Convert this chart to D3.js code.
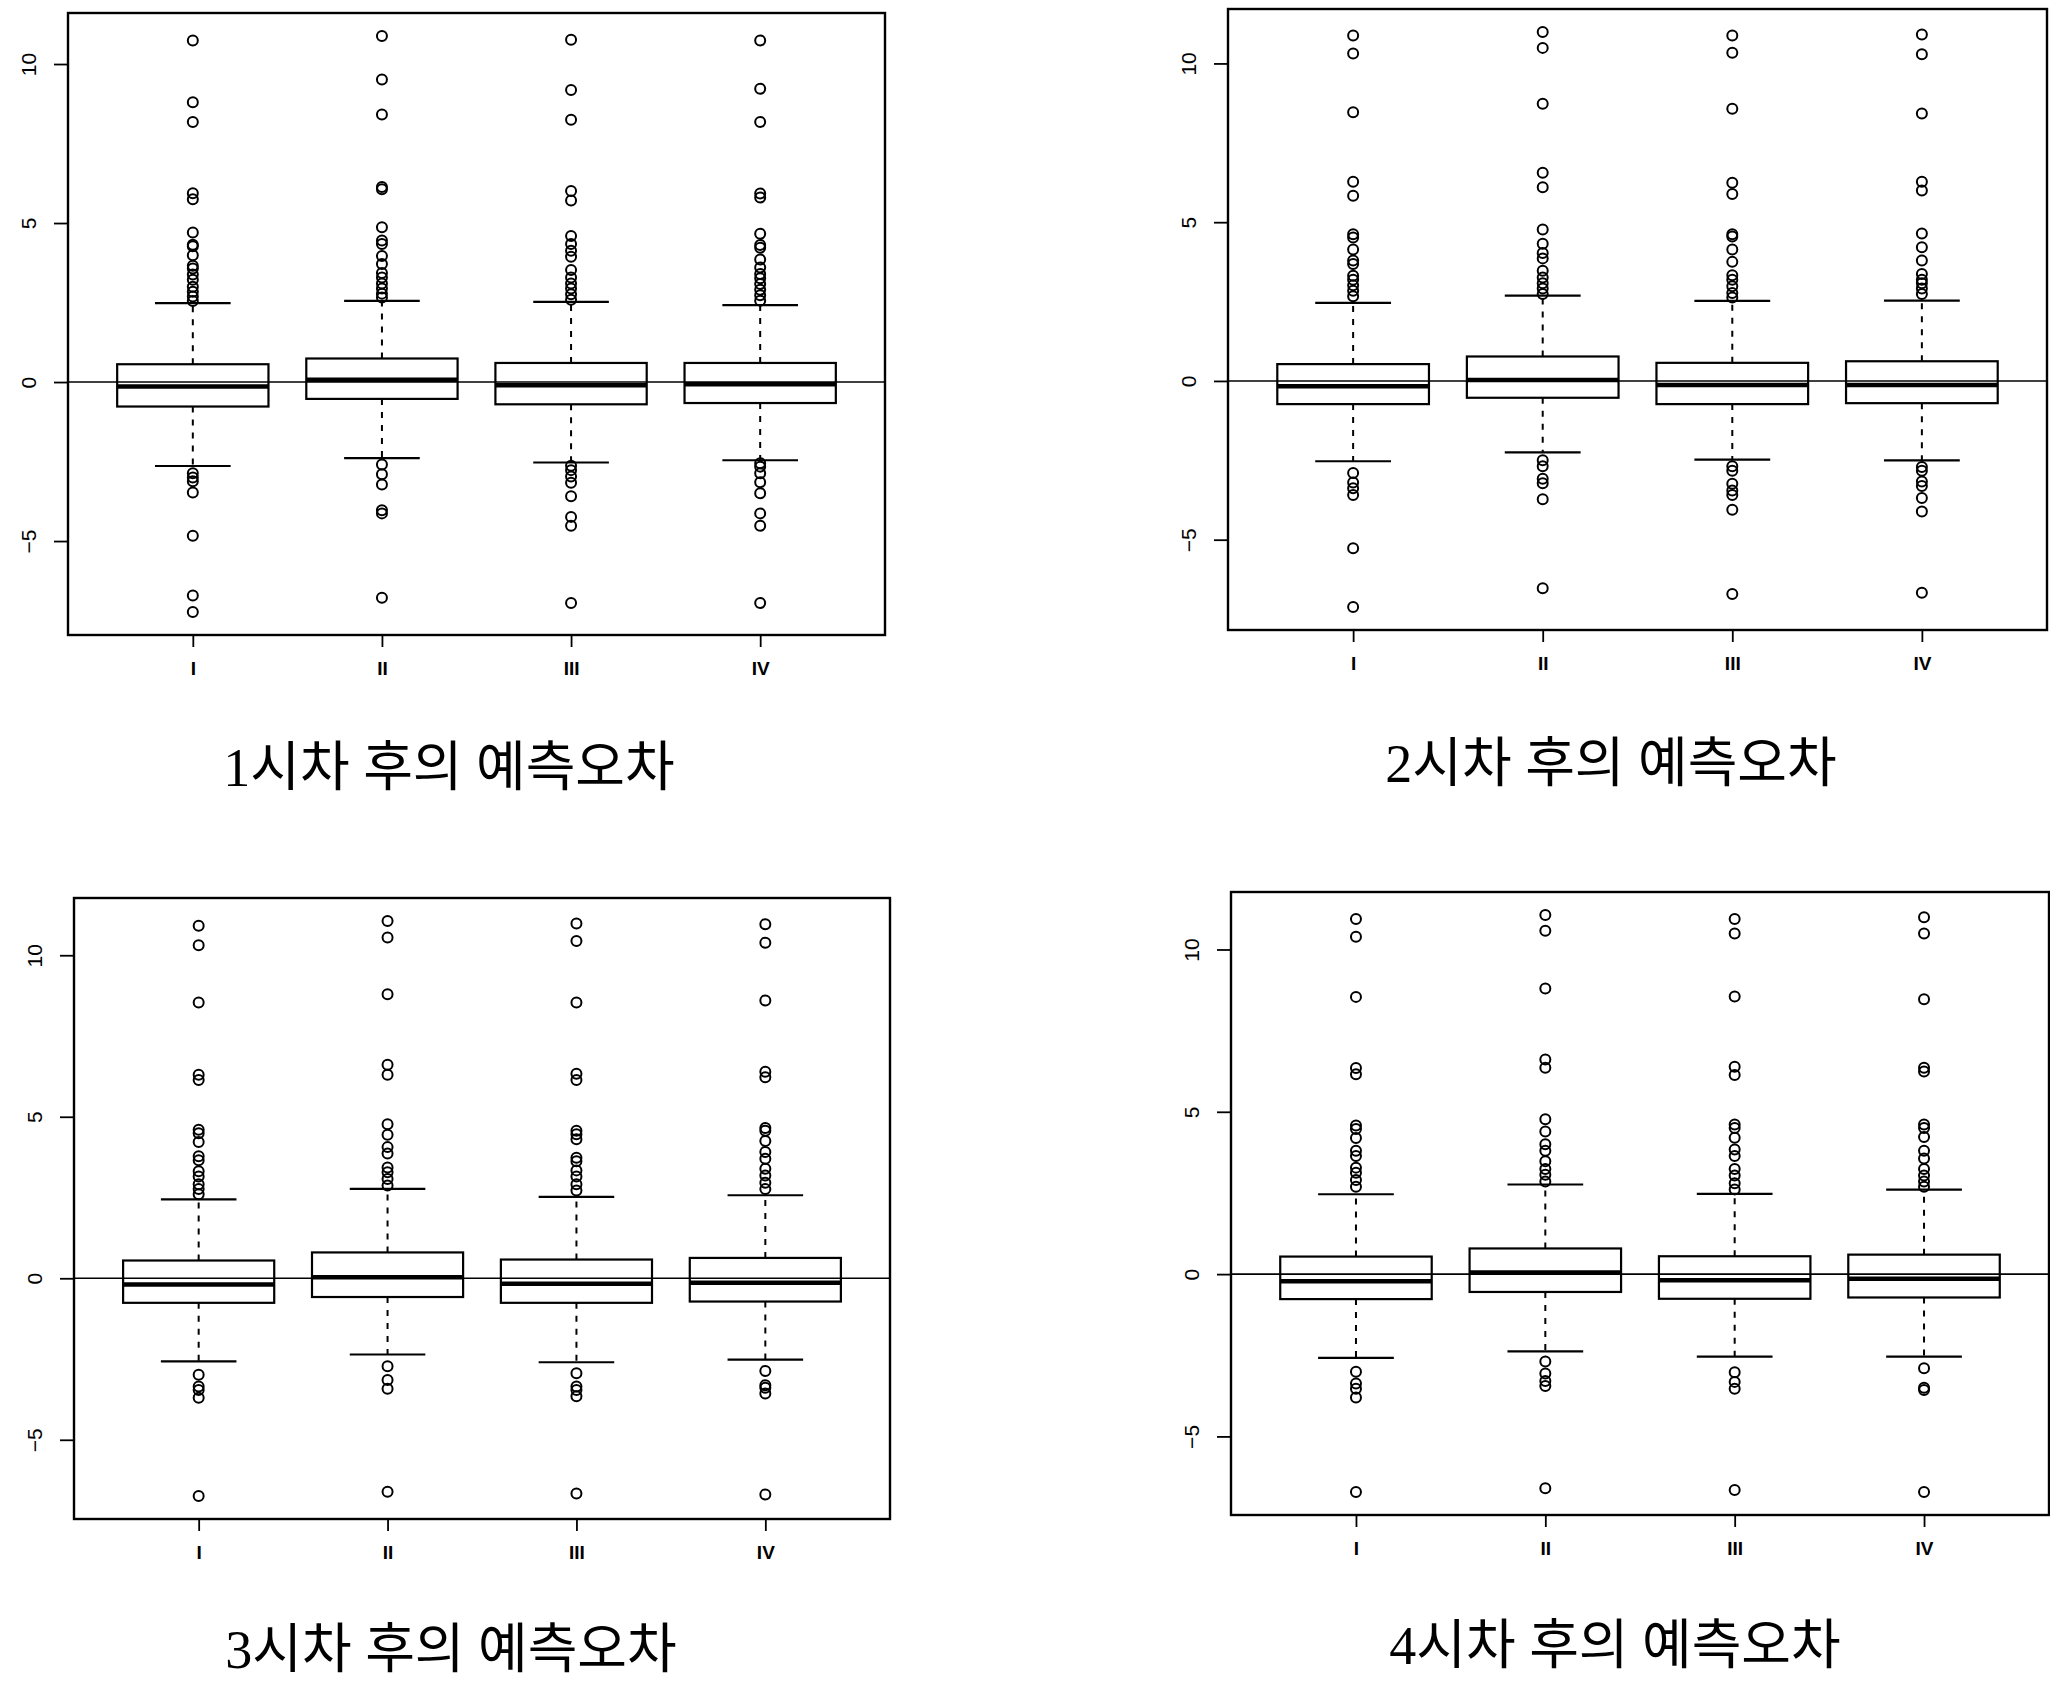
<!DOCTYPE html>
<html>
<head>
<meta charset="utf-8">
<script src="https://cdn.jsdelivr.net/npm/d3@7"></script>
<style>
body { margin: 0; background: #fff; }
svg { display: block; }
.frame { fill: none; stroke: #000; stroke-width: 2.4; }
.box { fill: #fff; stroke: #000; stroke-width: 2.2; }
.median { stroke: #000; stroke-width: 4.5; }
.whisker { stroke: #000; stroke-width: 2; stroke-dasharray: 6,7; }
.staple { stroke: #000; stroke-width: 2.2; }
.outlier { fill: none; stroke: #000; stroke-width: 2; }
.zero { stroke: #000; stroke-width: 1.6; }
.axis path { display: none; }
.axis line { stroke: #000; stroke-width: 1.8; }
.axis text { font-family: "Liberation Sans", Arial, sans-serif; fill: #000; }
.title { font-family: "Liberation Serif", "Noto Sans CJK KR", serif; font-size: 54px; fill: #000; }
</style>
</head>
<body>
<div id="chart"></div>
<script>
// Forecast error boxplots by quarter, 1 to 4 steps ahead
var categories = ["I", "II", "III", "IV"];
var titles = ["1시차 후의 예측오차", "2시차 후의 예측오차", "3시차 후의 예측오차", "4시차 후의 예측오차"];
var yTicks = [-5, 0, 5, 10];

// five number summaries: [lower whisker, Q1, median, Q3, upper whisker]
var stats1 = [[-2.64, -0.77, -0.14, 0.56, 2.48], [-2.39, -0.53, 0.07, 0.74, 2.55], [-2.53, -0.70, -0.10, 0.60, 2.52], [-2.46, -0.66, -0.07, 0.60, 2.42]];
var stats2 = [[-2.53, -0.73, -0.17, 0.53, 2.46], [-2.25, -0.53, 0.03, 0.77, 2.69], [-2.48, -0.73, -0.13, 0.57, 2.52], [-2.50, -0.70, -0.13, 0.62, 2.53]];
var stats3 = [[-2.57, -0.76, -0.19, 0.55, 2.44], [-2.36, -0.58, 0.03, 0.80, 2.77], [-2.60, -0.76, -0.17, 0.58, 2.52], [-2.52, -0.72, -0.14, 0.63, 2.57]];
var stats4 = [[-2.58, -0.77, -0.22, 0.54, 2.46], [-2.38, -0.55, 0.05, 0.79, 2.76], [-2.54, -0.76, -0.19, 0.55, 2.47], [-2.54, -0.72, -0.14, 0.60, 2.60]];

var outliers1 = [
    [10.74, 8.80, 8.18, 5.94, 5.75, 4.70, 4.32, 4.27, 3.99, 3.66, 3.57, 3.38, 3.22, 3.00, 2.84, 2.69, 2.55, -2.87, -3.00, -3.12, -3.47, -4.83, -6.71, -7.23],
    [10.88, 9.51, 8.41, 6.13, 6.06, 4.87, 4.45, 4.34, 3.96, 3.71, 3.43, 3.29, 3.10, 2.94, 2.78, 2.66, -2.59, -2.90, -3.22, -4.03, -4.13, -6.78],
    [10.76, 9.18, 8.25, 6.01, 5.71, 4.59, 4.34, 4.13, 3.94, 3.52, 3.29, 3.10, 2.94, 2.76, 2.59, -2.63, -2.77, -2.97, -3.17, -3.59, -4.24, -4.52, -6.95],
    [10.74, 9.22, 8.18, 5.93, 5.80, 4.66, 4.31, 4.22, 3.85, 3.60, 3.40, 3.26, 3.08, 2.90, 2.73, 2.56, -2.55, -2.66, -2.87, -3.15, -3.50, -4.13, -4.52, -6.95]
];
var outliers2 = [
    [10.88, 10.31, 8.46, 6.27, 5.83, 4.62, 4.52, 4.14, 3.79, 3.68, 3.31, 3.19, 3.01, 2.84, 2.67, -2.90, -3.20, -3.38, -3.59, -5.27, -7.12],
    [10.99, 10.49, 8.73, 6.56, 6.10, 4.77, 4.32, 4.03, 3.86, 3.47, 3.26, 3.08, 2.91, 2.74, -2.50, -2.69, -3.08, -3.22, -3.73, -6.53],
    [10.88, 10.34, 8.57, 6.24, 5.89, 4.62, 4.55, 4.14, 3.75, 3.33, 3.19, 2.98, 2.77, 2.63, -2.69, -2.83, -3.24, -3.45, -3.59, -4.06, -6.71],
    [10.91, 10.29, 8.42, 6.27, 6.00, 4.64, 4.21, 3.79, 3.37, 3.19, 3.08, 2.91, 2.74, -2.71, -2.83, -3.17, -3.31, -3.69, -4.11, -6.67]
];
var outliers3 = [
    [10.91, 10.31, 8.54, 6.30, 6.14, 4.60, 4.49, 4.22, 3.78, 3.65, 3.31, 3.15, 2.91, 2.76, 2.60, -2.99, -3.35, -3.46, -3.70, -6.74],
    [11.06, 10.55, 8.79, 6.61, 6.30, 4.77, 4.44, 4.06, 3.86, 3.43, 3.28, 3.07, 2.87, -2.72, -3.15, -3.42, -6.61],
    [10.98, 10.44, 8.54, 6.33, 6.14, 4.57, 4.46, 4.30, 3.73, 3.62, 3.34, 3.15, 2.91, 2.72, -2.94, -3.35, -3.46, -3.65, -6.66],
    [10.96, 10.39, 8.60, 6.39, 6.22, 4.65, 4.57, 4.25, 3.91, 3.70, 3.39, 3.18, 2.96, 2.76, -2.87, -3.31, -3.39, -3.57, -6.69]
];
var outliers4 = [
    [10.94, 10.39, 8.54, 6.35, 6.16, 4.58, 4.47, 4.19, 3.80, 3.64, 3.28, 3.12, 2.90, 2.69, -3.01, -3.37, -3.53, -3.80, -6.71],
    [11.06, 10.58, 8.80, 6.61, 6.36, 4.77, 4.39, 4.00, 3.80, 3.48, 3.24, 3.06, 2.85, -2.69, -3.06, -3.29, -3.45, -6.60],
    [10.94, 10.49, 8.55, 6.39, 6.13, 4.61, 4.50, 4.20, 3.84, 3.64, 3.24, 3.04, 2.80, 2.61, -3.02, -3.32, -3.53, -6.65],
    [10.99, 10.49, 8.47, 6.36, 6.24, 4.61, 4.50, 4.22, 3.80, 3.56, 3.24, 3.04, 2.85, 2.69, -2.90, -3.50, -3.57, -6.71]
];

var width = 2050, height = 1683;

// panel plot regions and title anchors (pixels)
var panels = [
    { left: 68,   top: 13,  right: 885,  bottom: 635,  tx: 449,  ty: 768 },
    { left: 1228, top: 9,   right: 2047, bottom: 630,  tx: 1611, ty: 764 },
    { left: 74,   top: 898, right: 890,  bottom: 1519, tx: 451,  ty: 1650 },
    { left: 1231, top: 892, right: 2049, bottom: 1515, tx: 1615, ty: 1646 }
];
var allStats = [stats1, stats2, stats3, stats4];
var allOutliers = [outliers1, outliers2, outliers3, outliers4];

var svg = d3.select("#chart").append("svg")
    .attr("width", width)
    .attr("height", height);

panels.forEach(function (p, k) {
    var stats = allStats[k], outs = allOutliers[k];

    // R style limits: extend data range by 4 percent
    var lo = d3.min(stats.map(function (s, i) { return Math.min(s[0], d3.min(outs[i])); }));
    var hi = d3.max(stats.map(function (s, i) { return Math.max(s[4], d3.max(outs[i])); }));
    var pad = (hi - lo) * 0.04;

    var x = d3.scaleLinear().domain([0.34, 4.66]).range([p.left, p.right]);
    var y = d3.scaleLinear().domain([lo - pad, hi + pad]).range([p.bottom, p.top]);
    var boxW = (x(2) - x(1)) * 0.8;

    var g = svg.append("g");

    // zero line
    g.append("line").attr("class", "zero")
        .attr("x1", p.left).attr("x2", p.right)
        .attr("y1", y(0)).attr("y2", y(0));

    var boxes = g.selectAll(".bp")
        .data(stats)
        .enter()
        .append("g")
        .attr("class", "bp")
        .attr("transform", function (d, i) { return "translate(" + x(i + 1) + ",0)"; });

    // whiskers
    boxes.append("line").attr("class", "whisker")
        .attr("x1", 0).attr("x2", 0)
        .attr("y1", function (d) { return y(d[3]); })
        .attr("y2", function (d) { return y(d[4]); });
    boxes.append("line").attr("class", "whisker")
        .attr("x1", 0).attr("x2", 0)
        .attr("y1", function (d) { return y(d[1]); })
        .attr("y2", function (d) { return y(d[0]); });

    // staples
    boxes.append("line").attr("class", "staple")
        .attr("x1", -boxW / 4).attr("x2", boxW / 4)
        .attr("y1", function (d) { return y(d[4]); })
        .attr("y2", function (d) { return y(d[4]); });
    boxes.append("line").attr("class", "staple")
        .attr("x1", -boxW / 4).attr("x2", boxW / 4)
        .attr("y1", function (d) { return y(d[0]); })
        .attr("y2", function (d) { return y(d[0]); });

    // box
    boxes.append("rect").attr("class", "box")
        .attr("x", -boxW / 2)
        .attr("width", boxW)
        .attr("y", function (d) { return y(d[3]); })
        .attr("height", function (d) { return y(d[1]) - y(d[3]); });

    // zero line shows through the boxes
    boxes.append("line").attr("class", "zero")
        .attr("x1", -boxW / 2).attr("x2", boxW / 2)
        .attr("y1", y(0)).attr("y2", y(0));

    // median
    boxes.append("line").attr("class", "median")
        .attr("x1", -boxW / 2).attr("x2", boxW / 2)
        .attr("y1", function (d) { return y(d[2]); })
        .attr("y2", function (d) { return y(d[2]); });

    // outliers
    boxes.each(function (d, i) {
        d3.select(this).selectAll(".outlier")
            .data(outs[i])
            .enter()
            .append("circle")
            .attr("class", "outlier")
            .attr("cx", 0)
            .attr("cy", function (v) { return y(v); })
            .attr("r", 5);
    });

    // frame
    g.append("rect").attr("class", "frame")
        .attr("x", p.left).attr("y", p.top)
        .attr("width", p.right - p.left)
        .attr("height", p.bottom - p.top);

    // y axis
    var yAxis = g.append("g").attr("class", "axis")
        .attr("transform", "translate(" + p.left + ",0)")
        .call(d3.axisLeft(y).tickValues(yTicks).tickSize(14).tickFormat(d3.format("d")));
    yAxis.selectAll(".tick text")
        .attr("x", 0).attr("dy", null)
        .attr("text-anchor", "middle")
        .attr("transform", "translate(-40,0) rotate(-90)")
        .attr("dominant-baseline", "central")
        .style("font-size", "21px");

    // x axis
    var xAxis = g.append("g").attr("class", "axis")
        .attr("transform", "translate(0," + p.bottom + ")")
        .call(d3.axisBottom(x).tickValues([1, 2, 3, 4]).tickSize(12)
            .tickFormat(function (d) { return categories[d - 1]; }));
    xAxis.selectAll(".tick text")
        .attr("y", 33).attr("dy", null)
        .attr("dominant-baseline", "central")
        .style("font-size", "19px")
        .style("font-weight", "bold");

    // title
    svg.append("text").attr("class", "title")
        .attr("x", p.tx).attr("y", p.ty)
        .attr("text-anchor", "middle")
        .attr("dominant-baseline", "central")
        .text(titles[k]);
});
</script>
</body>
</html>
